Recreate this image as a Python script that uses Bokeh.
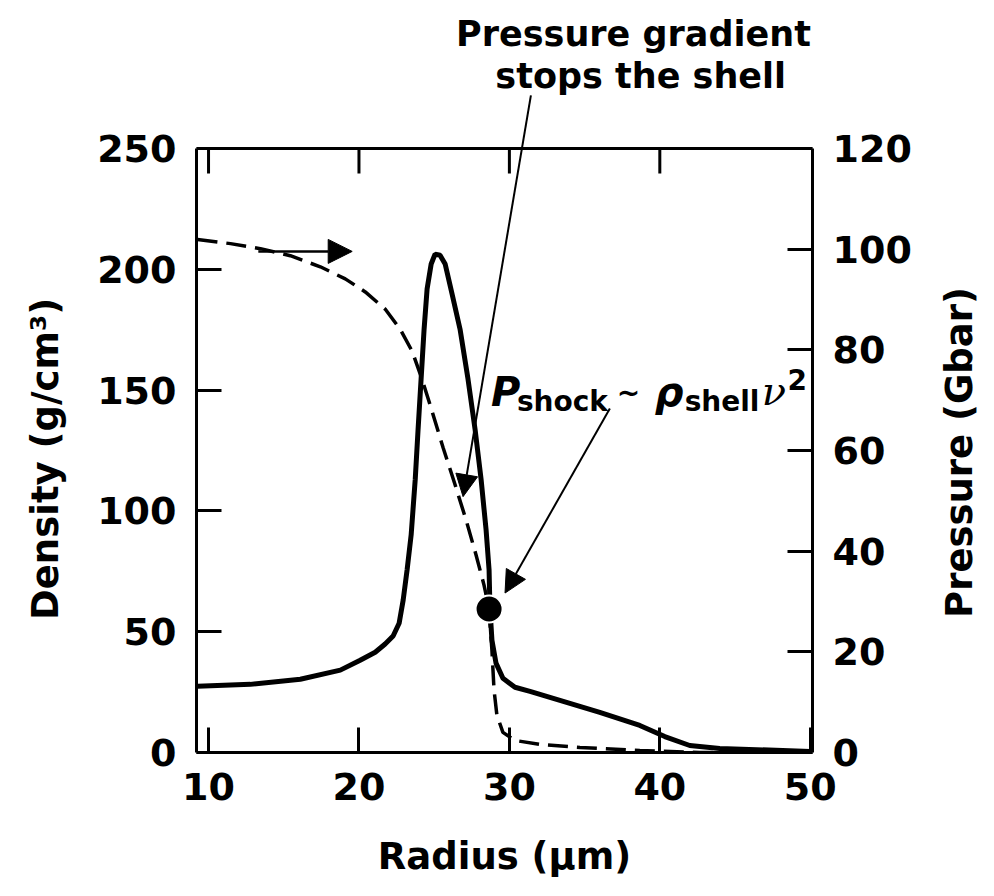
import math
from bokeh.plotting import figure
from bokeh.layouts import row
from bokeh.models import (Range1d, LinearAxis, FixedTicker, Label, Arrow, NormalHead, Span)
from bokeh.embed import file_html
from bokeh.resources import INLINE

# ---- data ----
radius_density = [9.27, 12.78, 16.10, 18.76, 20.08, 21.08, 21.74, 22.27, 22.67, 22.94,
                  23.20, 23.47, 23.74, 23.93, 24.13, 24.33, 24.53, 24.80, 25.06, 25.39,
                  25.73, 26.19, 26.72, 27.25, 27.72, 28.12, 28.45, 28.65, 28.71, 28.84,
                  29.11, 29.57, 30.37, 31.37, 33.36, 36.01, 38.67, 40.33, 41.99, 43.98,
                  50.0]
density = [27.4, 28.2, 30.3, 34.1, 38.2, 41.5, 44.9, 48.2, 53.5, 63.1,
           75.6, 90.1, 113.0, 133.7, 154.5, 175.2, 191.9, 202.2, 206.3, 205.8,
           202.2, 189.8, 175.2, 154.5, 133.7, 113.0, 92.2, 75.6, 59.4, 46.5,
           37.0, 30.7, 27.0, 25.3, 21.6, 16.6, 11.2, 6.6, 2.9, 1.7,
           0.4]

radius_pressure = [9.27, 11.46, 13.45, 15.44, 17.43, 19.09, 20.42, 21.74, 22.74, 23.54,
                   24.20, 24.86, 25.59, 26.39, 27.12, 27.78, 28.31, 28.64, 28.84, 28.98,
                   29.17, 29.57, 30.37, 32.03, 34.69, 38.67, 42.65, 50.0]
pressure = [101.9, 101.1, 100.1, 98.7, 96.5, 94.1, 91.5, 88.1, 84.1, 79.7,
            74.1, 67.8, 60.6, 53.2, 46.2, 39.3, 33.3, 28.7, 20.3, 12.4,
            7.4, 4.0, 2.4, 1.6, 1.0, 0.4, 0.0, 0.0]

shock_radius = [28.65]
shock_density = [59.4]

x_ticks = [10, 20, 30, 40, 50]
density_ticks = [0, 50, 100, 150, 200, 250]
pressure_ticks = [0, 20, 40, 60, 80, 100, 120]
DENSITY_MAX = 250
PRESSURE_MAX = 120

FONT = "DejaVu Sans"
TICK_SIZE = "38px"
LABEL_SIZE = "37px"

H = 896
SIDE_W = 80
MAIN_W = 994 - 2 * SIDE_W

# the frame reaches the top of the page so that the annotation above the box is drawn;
# the visible box stops at DENSITY_MAX
FRAME_H = 752
BOX_H = 604
y_top = DENSITY_MAX * FRAME_H / BOX_H
p_top = PRESSURE_MAX * FRAME_H / BOX_H

p = figure(width=MAIN_W, height=H, output_backend="svg", toolbar_location=None,
           x_range=Range1d(9.2, 50.15), y_range=Range1d(0, y_top),
           min_border_left=196 - SIDE_W, min_border_right=994 - SIDE_W - 813,
           min_border_top=0, min_border_bottom=144)
p.extra_y_ranges = {"pressure": Range1d(0, p_top)}
p.grid.visible = False
p.outline_line_color = None
p.background_fill_color = "white"
p.border_fill_color = "white"


def style_axis(ax, ticks):
    ax.ticker = FixedTicker(ticks=ticks)
    ax.axis_line_width = 3
    ax.axis_line_color = "black"
    ax.major_tick_line_width = 3
    ax.major_tick_in = 25
    ax.major_tick_out = 0
    ax.minor_tick_line_color = None
    ax.major_label_text_font = FONT
    ax.major_label_text_font_style = "bold"
    ax.major_label_text_font_size = TICK_SIZE
    ax.major_label_text_color = "black"
    ax.major_label_standoff = 20
    ax.axis_label_text_font = FONT
    ax.axis_label_text_font_style = "bold"
    ax.axis_label_text_font_size = LABEL_SIZE
    ax.axis_label_text_color = "black"


style_axis(p.xaxis[0], x_ticks)
p.xaxis[0].axis_label = "Radius (μm)"
p.xaxis[0].axis_label_standoff = 32

style_axis(p.yaxis[0], density_ticks)
p.yaxis[0].bounds = (0, DENSITY_MAX)

right = LinearAxis(y_range_name="pressure")
style_axis(right, pressure_ticks)
right.bounds = (0, PRESSURE_MAX)
p.add_layout(right, "right")

# top edge of the box and its inward ticks
p.add_layout(Span(location=DENSITY_MAX, dimension="width", line_color="black",
                  line_width=3))
tick_len = 25 * y_top / FRAME_H
top_ticks = x_ticks[:-1]
p.segment(x0=top_ticks, y0=[DENSITY_MAX] * len(top_ticks), x1=top_ticks,
          y1=[DENSITY_MAX - tick_len] * len(top_ticks), line_color="black", line_width=3)

# curves
p.line(radius_density, density, line_color="black", line_width=5)
p.line(radius_pressure, pressure, line_color="black", line_width=3.5,
       line_dash="20 9", y_range_name="pressure")
p.scatter(shock_radius, shock_density, size=27, fill_color="black",
          line_color="white", line_width=2)

# arrows
p.add_layout(Arrow(end=NormalHead(size=24, fill_color="black", line_color="black"),
                   x_start=13.31, y_start=207.4, x_end=19.55, y_end=207.4,
                   line_width=2.5, line_color="black"))
p.add_layout(Arrow(end=NormalHead(size=22, fill_color="black", line_color="black"),
                   x_start=31.43, y_start=272.0, x_end=26.92, y_end=105.9,
                   line_width=2, line_color="black"))
p.add_layout(Arrow(end=NormalHead(size=22, fill_color="black", line_color="black"),
                   x_start=36.68, y_start=142.4, x_end=29.71, y_end=66.0,
                   line_width=2, line_color="black"))

# annotation above the box (two lines)
for txt, xx, yy in [("Pressure gradient", 38.25, 297.3), ("stops the shell", 38.73, 279.9)]:
    p.add_layout(Label(x=xx, y=yy, text=txt, text_align="center",
                       text_baseline="alphabetic", text_font=FONT,
                       text_font_style="bold", text_font_size="35px",
                       text_color="black"))

# P_shock ~ rho_shell v^2
pieces = [
    ("P", 28.78, 149.1, "40px", "bold italic", FONT),
    ("shock", 30.50, 145.3, "28px", "bold", FONT),
    ("~", 37.14, 149.1, "28px", "bold", FONT),
    ("ρ", 39.66, 149.1, "40px", "bold italic", FONT),
    ("shell", 41.65, 145.3, "28px", "bold", FONT),
    ("ν", 46.77, 149.5, "40px", "italic", "DejaVu Serif"),
    ("2", 48.49, 154.5, "28px", "bold", FONT),
]
for txt, xx, yy, size, style, font in pieces:
    p.add_layout(Label(x=xx, y=yy, text=txt, text_align="left",
                       text_baseline="alphabetic", text_font=font,
                       text_font_style=style, text_font_size=size,
                       text_color="black"))


# side panels holding the rotated axis titles; their frames line up with the
# main frame (page rows 0..FRAME_H), so the y range is in page pixels from the bottom
def side_title(text):
    s = figure(width=SIDE_W, height=H, output_backend="svg", toolbar_location=None,
               x_range=Range1d(0, SIDE_W), y_range=Range1d(0, FRAME_H),
               min_border_left=0, min_border_right=0, min_border_top=0,
               min_border_bottom=H - FRAME_H,
               x_axis_type=None, y_axis_type=None)
    s.grid.visible = False
    s.outline_line_color = None
    s.add_layout(Label(x=45, y=FRAME_H - 452, text=text, angle=math.pi / 2,
                       text_align="center", text_baseline="middle", text_font=FONT,
                       text_font_style="bold", text_font_size=LABEL_SIZE,
                       text_color="black"))
    return s


layout = row(side_title("Density  (g/cm³)"), p, side_title("Pressure (Gbar)"),
             spacing=0)

open("out.html", "w").write(file_html(layout, INLINE))
